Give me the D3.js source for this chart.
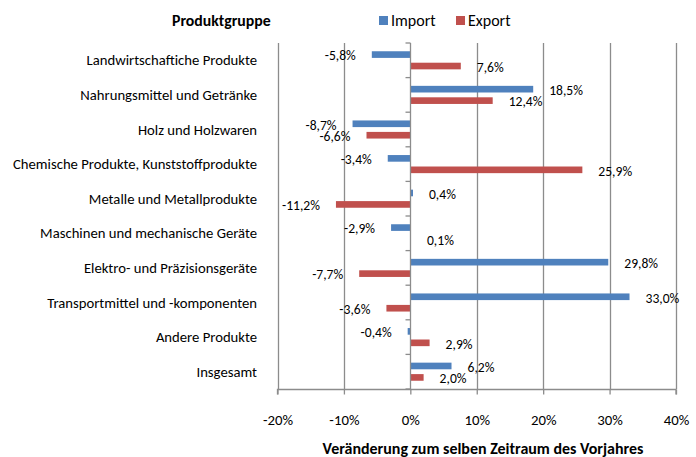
<!DOCTYPE html>
<html><head><meta charset="utf-8">
<script src="https://cdn.jsdelivr.net/npm/d3@7"></script>
<style>
html,body{margin:0;padding:0;background:#fff;}
svg{display:block;font-family:Carlito, Calibri, Lato, sans-serif;}
</style></head>
<body><svg id="c" width="696" height="457"></svg>
<script>
const categories = ["Landwirtschaftiche Produkte","Nahrungsmittel und Getränke","Holz und Holzwaren","Chemische Produkte, Kunststoffprodukte","Metalle und Metallprodukte","Maschinen und mechanische Geräte","Elektro- und Präzisionsgeräte","Transportmittel und -komponenten","Andere Produkte","Insgesamt"];
const importValues = [-5.8, 18.5, -8.7, -3.4, 0.4, -2.9, 29.8, 33.0, -0.4, 6.2];
const exportValues = [7.6, 12.4, -6.6, 25.9, -11.2, 0.1, -7.7, -3.6, 2.9, 2.0];
const seriesNames = ["Import","Export"];
const seriesColors = ["#4F81BD","#C0504D"];
const xTicks = [-20,-10,0,10,20,30,40];
const headerLabel = "Produktgruppe";
const axisTitle = "Veränderung zum selben Zeitraum des Vorjahres";

const svg = d3.select("#c");
const x = d3.scaleLinear().domain([-20,40]).range([277.5,676]);
const y = d3.scaleBand().domain(categories).range([43,389]);
const sub = d3.scaleBand().domain(seriesNames).range([0,y.bandwidth()]).paddingInner(0.42).paddingOuter(0.72);
const fmt = v => v.toFixed(1).replace(".",",") + "%";

// gridlines
svg.append("g").selectAll("line").data(xTicks.filter(t=>t!==0)).join("line")
  .attr("x1",d=>Math.round(x(d))+0.5).attr("x2",d=>Math.round(x(d))+0.5)
  .attr("y1",43).attr("y2",389).attr("stroke","#8c8c8c").attr("stroke-width",1.3);

// bottom axis
const xa = svg.append("g").attr("transform","translate(0,389.5)")
  .call(d3.axisBottom(x).tickValues(xTicks).tickSize(5).tickPadding(20).tickFormat(d=>d+"%"));
xa.select(".domain").attr("stroke","#8c8c8c").attr("stroke-width",1.3).attr("d",`M${x(-20)},5V0H${x(40)}V5`);
xa.selectAll(".tick line").attr("stroke","#8c8c8c").attr("stroke-width",1.3);
xa.selectAll(".tick text").attr("font-size",14.8).attr("fill","#000").attr("font-family","Carlito, Calibri, Lato, sans-serif");

// bars
const data = [];
categories.forEach((c,i)=>{
  data.push({c, s:"Import", v:importValues[i], col:seriesColors[0]});
  data.push({c, s:"Export", v:exportValues[i], col:seriesColors[1]});
});
svg.append("g").selectAll("rect").data(data).join("rect")
  .attr("x",d=>Math.min(x(0),x(d.v))).attr("width",d=>Math.abs(x(d.v)-x(0)))
  .attr("y",d=>y(d.c)+sub(d.s)).attr("height",sub.bandwidth())
  .attr("fill",d=>d.col);

// zero axis
const ya = svg.append("g").attr("transform",`translate(${Math.round(x(0))+0.5},0)`)
  .call(d3.axisLeft(y).tickSize(0).tickFormat(""));
ya.select(".domain").attr("stroke","#8c8c8c").attr("stroke-width",1.3).attr("d","M0,43V389");
ya.selectAll(".bnd").data(d3.range(categories.length+1)).join("line")
  .attr("x1",-5).attr("x2",0).attr("y1",i=>43+i*y.step()).attr("y2",i=>43+i*y.step())
  .attr("stroke","#8c8c8c").attr("stroke-width",1.3);

// category labels
svg.append("g").selectAll("text").data(categories).join("text")
  .attr("x",257).attr("y",d=>y(d)+y.bandwidth()/2).attr("dy","0.35em")
  .attr("text-anchor","end").attr("font-size",14.7).text(d=>d);

// data labels
svg.append("g").selectAll("text").data(data).join("text")
  .attr("x",d=>d.v>=0? x(d.v)+16 : x(d.v)-16)
  .attr("y",d=>y(d.c)+sub(d.s)+sub.bandwidth()/2+1).attr("dy","0.35em")
  .attr("text-anchor",d=>d.v>=0?"start":"end").attr("font-size",13.6).text(d=>fmt(d.v));

// header & legend
svg.append("text").attr("x",172).attr("y",20).attr("dy","0.35em").attr("font-size",15.8).attr("font-weight","bold").text(headerLabel);
const leg = svg.append("g").selectAll("g").data(seriesNames).join("g")
  .attr("transform",(d,i)=>`translate(${379+i*77},0)`);
leg.append("rect").attr("x",0).attr("y",16).attr("width",9).attr("height",9).attr("fill",(d,i)=>seriesColors[i]);
leg.append("text").attr("x",12).attr("y",20.5).attr("dy","0.35em").attr("font-size",16).text(d=>d);

// axis title
svg.append("text").attr("x",483).attr("y",449).attr("dy","0.35em").attr("text-anchor","middle")
  .attr("font-size",15).attr("font-weight","bold").attr("textLength",321).attr("lengthAdjust","spacingAndGlyphs").text(axisTitle);
</script></body></html>
